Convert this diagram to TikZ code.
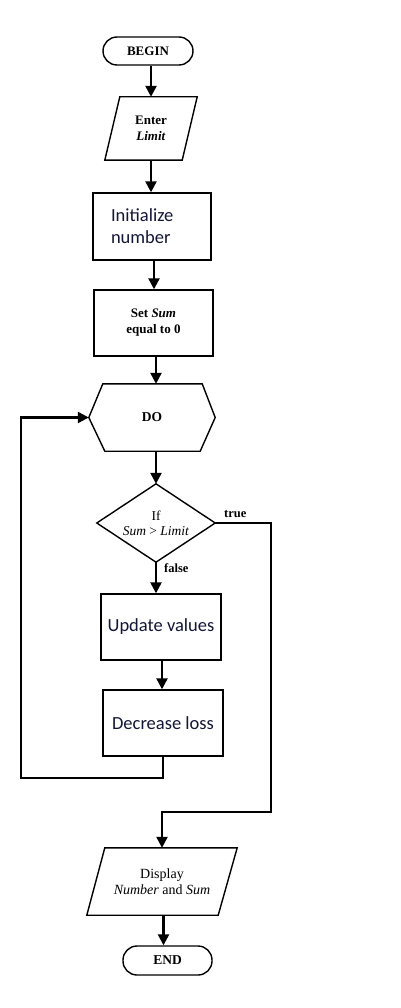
\documentclass[tikz,border=0pt]{standalone}
\usepackage{fontspec}
\setmainfont{Liberation Serif}
\newfontfamily\calfont{Carlito}
\usetikzlibrary{arrows.meta,calc}
\definecolor{inkblue}{RGB}{18,22,55}
\begin{document}
\begin{tikzpicture}[x=1pt,y=-1pt,
  outline/.style={draw, line width=1.4pt},
  term/.style={outline, rounded corners=14pt, inner sep=0pt, font=\fontsize{13}{15}\selectfont\bfseries},
  procbox/.style={outline, inner sep=0pt, align=center},
  ghost/.style={inner sep=0pt, align=center},
  shapeline/.style={line width=1.4pt, line join=miter},
  calbox/.style={procbox, text=inkblue, font=\calfont\fontsize{18.5}{22}\selectfont},
  arr/.style={line width=2.4pt, -{Triangle[width=11pt,length=11pt]}},
  flow/.style={line width=2pt, line join=miter},
  lbl/.style={inner sep=0pt, font=\fontsize{12.5}{14}\selectfont\bfseries}
]
\fill[white] (0,0) rectangle (400,1008);
\useasboundingbox (0,0) rectangle (400,1008);

% nodes
\node[term, minimum width=90pt, minimum height=28pt] (begin) at (148,51) {BEGIN};

\node[ghost, minimum width=92pt, minimum height=63pt,
      font=\fontsize{13}{16}\selectfont\bfseries] (enter) at (151,128.5) {Enter\\\textit{Limit}};
\draw[shapeline] ([xshift=15pt]enter.north west) -- (enter.north east)
  -- ([xshift=-15pt]enter.south east) -- (enter.south west) -- cycle;

\node[calbox, minimum width=118pt, minimum height=67pt, text width=82pt, align=left] (init) at (152,226.5) {Initialize\\number};

\node[procbox, minimum width=119pt, minimum height=66pt,
      font=\fontsize{13}{16}\selectfont\bfseries] (setsum) at (153.5,323) {Set \textit{Sum}\\equal to 0};

\node[ghost, minimum width=126pt, minimum height=67pt,
      font=\fontsize{13.5}{15}\selectfont\bfseries] (do) at (152,417.5) {DO};
\draw[shapeline] ([xshift=14pt]do.north west) -- ([xshift=-13pt]do.north east) -- (do.east)
  -- ([xshift=-15pt]do.south east) -- ([xshift=16pt]do.south west) -- (do.west) -- cycle;

\node[ghost, minimum width=118pt, minimum height=78pt,
      font=\fontsize{13.5}{15}\selectfont] (if) at (156,523) {If\\\textit{Sum} > \textit{Limit}};
\draw[shapeline] (if.north) -- (if.east) -- (if.south) -- (if.west) -- cycle;

\node[calbox, minimum width=120pt, minimum height=66pt] (update) at (161,627) {Update values};
\node[calbox, minimum width=120pt, minimum height=66pt] (decrease) at (163,723) {Decrease loss};

\node[ghost, minimum width=150pt, minimum height=67pt,
      font=\fontsize{14}{16}\selectfont] (display) at (162,881.5) {Display\\\textit{Number} and \textit{Sum}};
\draw[shapeline] ([xshift=18pt]display.north west) -- (display.north east)
  -- ([xshift=-19pt]display.south east) -- (display.south west) -- cycle;

\node[term, minimum width=89pt, minimum height=29pt, font=\fontsize{13.5}{15}\selectfont\bfseries] (end) at (167.5,960.5) {END};

% connectors
\draw[arr] (begin.south -| enter.north) -- (enter.north);
\draw[arr] (enter.south) -- (enter.south |- init.north);
\draw[arr] (init.south -| 154,0) -- (setsum.north -| 154,0);
\draw[arr] (setsum.south -| do.north) ++(4,0) -- ($(do.north)+(4,0)$);
\draw[arr] (do.south -| if.north) -- (if.north);
\draw[arr] (if.south) -- (if.south |- update.north);
\draw[arr] (update.south -| decrease.north) ++(-1,0) -- ($(decrease.north)+(-1,0)$);
\draw[arr] (display.south -| end.north) ++(-4,0) -- ($(end.north)+(-4,0)$);

\coordinate (loopc) at (21,778);
\draw[flow, arr] (decrease.south) |- (loopc) |- (do.west);

\coordinate (truec) at (271,812);
\draw[flow, arr] (if.east) -| (truec) -| (display.north);

\node[lbl, anchor=south west] (truelbl) at (224,518) {true};
\node[lbl, anchor=north west] (falselbl) at (164,563) {false};
\end{tikzpicture}
\end{document}
